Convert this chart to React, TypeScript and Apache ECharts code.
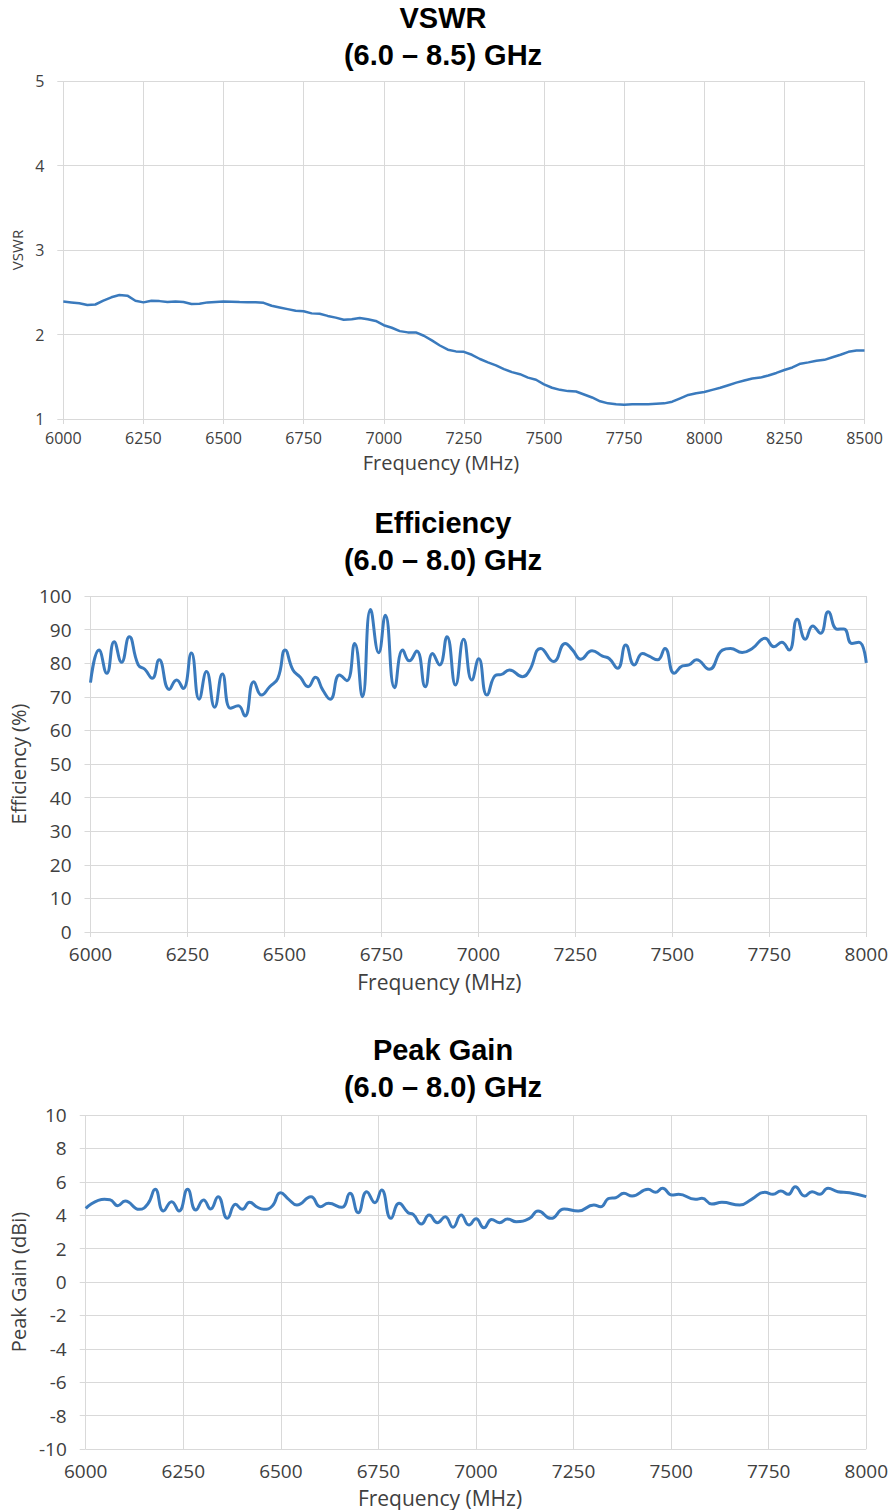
import React, { useEffect, useRef } from "react";
import * as echarts from "echarts";

// ---------- VSWR (6.0 - 8.5 GHz), sampled every 25 MHz ----------
const vswrStartMHz = 6000;
const vswrStepMHz = 25;
const vswrValues = [
  2.39, 2.38, 2.37, 2.35, 2.355, 2.4, 2.44, 2.467, 2.46, 2.4,
  2.38, 2.4, 2.395, 2.385, 2.39, 2.385, 2.36, 2.365, 2.38, 2.385,
  2.39, 2.388, 2.385, 2.383, 2.383, 2.375, 2.34, 2.32, 2.3, 2.28,
  2.275, 2.25, 2.245, 2.22, 2.2, 2.175, 2.18, 2.195, 2.18, 2.16,
  2.11, 2.08, 2.04, 2.025, 2.025, 1.985, 1.93, 1.87, 1.82, 1.8,
  1.795, 1.76, 1.71, 1.67, 1.635, 1.59, 1.555, 1.53, 1.49, 1.465,
  1.41, 1.37, 1.345, 1.33, 1.325, 1.29, 1.255, 1.21, 1.185, 1.175,
  1.17, 1.175, 1.175, 1.175, 1.18, 1.185, 1.205, 1.245, 1.285, 1.305,
  1.32, 1.345, 1.37, 1.4, 1.43, 1.455, 1.48, 1.49, 1.515, 1.545,
  1.58, 1.61, 1.655, 1.67, 1.69, 1.7, 1.73, 1.76, 1.795, 1.81, 1.81,
];

// ---------- Efficiency (6.0 - 8.0 GHz) ----------
const effFreq = [
  6000, 6022, 6042, 6061, 6080, 6100, 6123, 6140, 6159, 6177,
  6203, 6222, 6239, 6260, 6280, 6299, 6320, 6340, 6361, 6381,
  6398, 6421, 6441, 6462, 6483, 6502, 6522, 6541, 6561, 6580,
  6599, 6618, 6642, 6661, 6681, 6701, 6722, 6743, 6760, 6784,
  6805, 6822, 6841, 6863, 6882, 6900, 6919, 6941, 6962, 6983,
  7001, 7022, 7046, 7058, 7080, 7114, 7131, 7161, 7194, 7224,
  7243, 7264, 7293, 7320, 7337, 7359, 7380, 7402, 7423, 7440,
  7462, 7481, 7505, 7526, 7543, 7562, 7595, 7629, 7650, 7680,
  7706, 7739, 7762, 7782, 7801, 7822, 7843, 7862, 7882, 7902,
  7925, 7942, 7963, 7981, 8000,
];
const effValues = [
  74.2, 83.9, 77.0, 86.4, 80.3, 87.9, 79.5, 78.2, 75.5, 81.0,
  72.2, 75.0, 72.5, 83.0, 69.3, 77.5, 66.9, 76.8, 66.6, 67.3,
  64.3, 74.5, 70.5, 73.0, 75.5, 83.9, 78.0, 75.8, 73.0, 75.8,
  72.0, 69.3, 76.5, 74.8, 85.9, 70.0, 96.0, 83.1, 94.3, 72.7,
  83.9, 80.7, 83.6, 73.0, 82.9, 79.5, 87.9, 73.5, 87.1, 75.0,
  81.3, 70.5, 76.5, 76.6, 78.0, 76.0, 77.7, 84.4, 80.5, 85.9,
  83.9, 81.2, 83.7, 82.1, 81.4, 78.5, 85.4, 79.5, 82.9, 82.1,
  81.0, 84.4, 77.0, 79.2, 79.5, 81.0, 78.2, 83.9, 84.4, 83.2,
  84.4, 87.4, 84.9, 86.2, 83.9, 93.1, 87.1, 91.1, 88.9, 95.3,
  90.1, 90.2, 85.9, 86.2, 80.1,
];

// ---------- Peak Gain (6.0 - 8.0 GHz) ----------
const gainFreq = [
  6000, 6048, 6062, 6082, 6101, 6137, 6159, 6178, 6199, 6220,
  6239, 6261, 6282, 6302, 6320, 6339, 6363, 6384, 6401, 6420,
  6439, 6456, 6478, 6499, 6520, 6541, 6577, 6601, 6622, 6656,
  6677, 6698, 6720, 6741, 6758, 6782, 6803, 6826, 6839, 6860,
  6880, 6901, 6921, 6941, 6962, 6982, 7000, 7020, 7040, 7060,
  7081, 7103, 7137, 7159, 7192, 7226, 7262, 7302, 7319, 7341,
  7358, 7379, 7400, 7441, 7460, 7478, 7502, 7519, 7562, 7579,
  7604, 7630, 7676, 7706, 7740, 7761, 7781, 7800, 7818, 7842,
  7861, 7881, 7902, 7927, 7957, 8000,
];
const gainValues = [
  4.41, 4.95, 4.93, 4.57, 4.85, 4.35, 4.67, 5.55, 4.25, 4.81,
  4.25, 5.55, 4.31, 4.91, 4.37, 5.11, 3.81, 4.65, 4.35, 4.77,
  4.49, 4.35, 4.55, 5.35, 4.95, 4.61, 5.11, 4.51, 4.71, 4.47,
  5.31, 4.15, 5.41, 4.75, 5.51, 3.81, 4.71, 4.15, 4.05, 3.47,
  4.01, 3.55, 3.91, 3.28, 4.01, 3.41, 3.78, 3.25, 3.75, 3.55,
  3.77, 3.61, 3.81, 4.25, 3.81, 4.37, 4.25, 4.61, 4.51, 5.01,
  5.05, 5.31, 5.15, 5.55, 5.37, 5.61, 5.21, 5.25, 4.95, 5.01,
  4.67, 4.77, 4.61, 4.95, 5.37, 5.25, 5.45, 5.25, 5.71, 5.15,
  5.41, 5.25, 5.61, 5.41, 5.35, 5.11,
];

const titles = [
  "VSWR\n(6.0 – 8.5) GHz",
  "Efficiency\n(6.0 – 8.0) GHz",
  "Peak Gain\n(6.0 – 8.0) GHz",
];
const xAxisName = "Frequency (MHz)";
const yAxisNames = ["VSWR", "Efficiency (%)", "Peak Gain (dBi)"];

const LINE_COLOR = "#3a7abd";
const GRID_COLOR = "#d9d9d9";
const LABEL_COLOR = "#404040";
const FONT = "'Open Sans', 'Noto Sans', sans-serif";

export default function App() {
  const ref = useRef<HTMLDivElement>(null);

  useEffect(() => {
    if (!ref.current) return;
    const chart = echarts.init(ref.current, undefined, { renderer: "svg" });

    const vswrData = vswrValues.map((v, i) => [vswrStartMHz + i * vswrStepMHz, v]);
    const effData = effFreq.map((f, i) => [f, effValues[i]]);
    const gainData = gainFreq.map((f, i) => [f, gainValues[i]]);

    const grids = [
      { left: 63.3, right: 891 - 864.5, top: 81, height: 338 },
      { left: 90.5, right: 891 - 867.5, top: 596, height: 336 },
      { left: 84.5, right: 891 - 868, top: 1115, height: 334 },
    ];
    const titleTops = [-0.5, 504, 1031];
    const tickFont = [16, 19, 19];
    const xTickMargin = [11, 12, 12];
    const nameFont = [20, 21, 21];
    const yNameFont = [15, 20, 20];
    const xNameGap = [33, 39, 38];
    // shift of the x-axis name to the left of the plot centre (px), as in the reference
    const xNameShift = [23, 39, 36];
    const yNameGap = [36, 56, 51];
    const yCfg = [
      { min: 1, max: 5, interval: 1 },
      { min: 0, max: 100, interval: 10 },
      { min: -10, max: 10, interval: 2 },
    ];
    const xCfg = [
      { min: 6000, max: 8500, interval: 250 },
      { min: 6000, max: 8000, interval: 250 },
      { min: 6000, max: 8000, interval: 250 },
    ];

    const option: any = {
      animation: false,
      backgroundColor: "#ffffff",
      title: titles.map((t, i) => ({
        text: t,
        left: 443,
        textAlign: "center",
        top: titleTops[i],
        padding: 0,
        textStyle: {
          fontFamily: "'Liberation Sans', Arial, sans-serif",
          fontWeight: "bold",
          fontSize: 29,
          lineHeight: 37,
          color: "#000000",
        },
      })),
      grid: grids.map((g) => ({ ...g, containLabel: false })),
      xAxis: xCfg.map((c, i) => ({
        type: "value",
        gridIndex: i,
        ...c,
        name: xAxisName,
        nameLocation: "middle",
        nameGap: xNameGap[i],
        nameTextStyle: {
          fontFamily: FONT,
          fontSize: nameFont[i],
          color: LABEL_COLOR,
          padding: [0, xNameShift[i] * 2, 0, 0],
        },
        axisLine: { show: false },
        axisTick: { show: true, length: 5, lineStyle: { color: GRID_COLOR } },
        axisLabel: {
          fontFamily: FONT,
          fontSize: tickFont[i],
          color: LABEL_COLOR,
          margin: xTickMargin[i],
          showMinLabel: true,
          showMaxLabel: true,
          formatter: (v: number) => String(v),
        },
        splitLine: { show: true, lineStyle: { color: GRID_COLOR, width: 1 } },
      })),
      yAxis: yCfg.map((c, i) => ({
        type: "value",
        gridIndex: i,
        ...c,
        name: yAxisNames[i],
        nameLocation: "middle",
        nameGap: yNameGap[i],
        nameTextStyle: { fontFamily: FONT, fontSize: yNameFont[i], color: LABEL_COLOR },
        axisLine: { show: false },
        axisTick: { show: true, length: 6, lineStyle: { color: GRID_COLOR } },
        axisLabel: {
          fontFamily: FONT,
          fontSize: tickFont[i],
          color: LABEL_COLOR,
          margin: 19,
          formatter: (v: number) => String(v),
        },
        splitLine: { show: true, lineStyle: { color: GRID_COLOR, width: 1 } },
      })),
      series: [
        {
          type: "line",
          xAxisIndex: 0,
          yAxisIndex: 0,
          data: vswrData,
          showSymbol: false,
          smooth: false,
          lineStyle: { color: LINE_COLOR, width: 2.5 },
        },
        {
          type: "line",
          xAxisIndex: 1,
          yAxisIndex: 1,
          data: effData,
          showSymbol: false,
          smooth: 0.5,
          lineStyle: { color: LINE_COLOR, width: 3 },
        },
        {
          type: "line",
          xAxisIndex: 2,
          yAxisIndex: 2,
          data: gainData,
          showSymbol: false,
          smooth: 0.5,
          lineStyle: { color: LINE_COLOR, width: 3 },
        },
      ],
    };

    chart.setOption(option);
    return () => chart.dispose();
  }, []);

  return (
    <div
      ref={ref}
      style={{ position: "absolute", left: 0, top: 0, width: 891, height: 1510 }}
    />
  );
}
